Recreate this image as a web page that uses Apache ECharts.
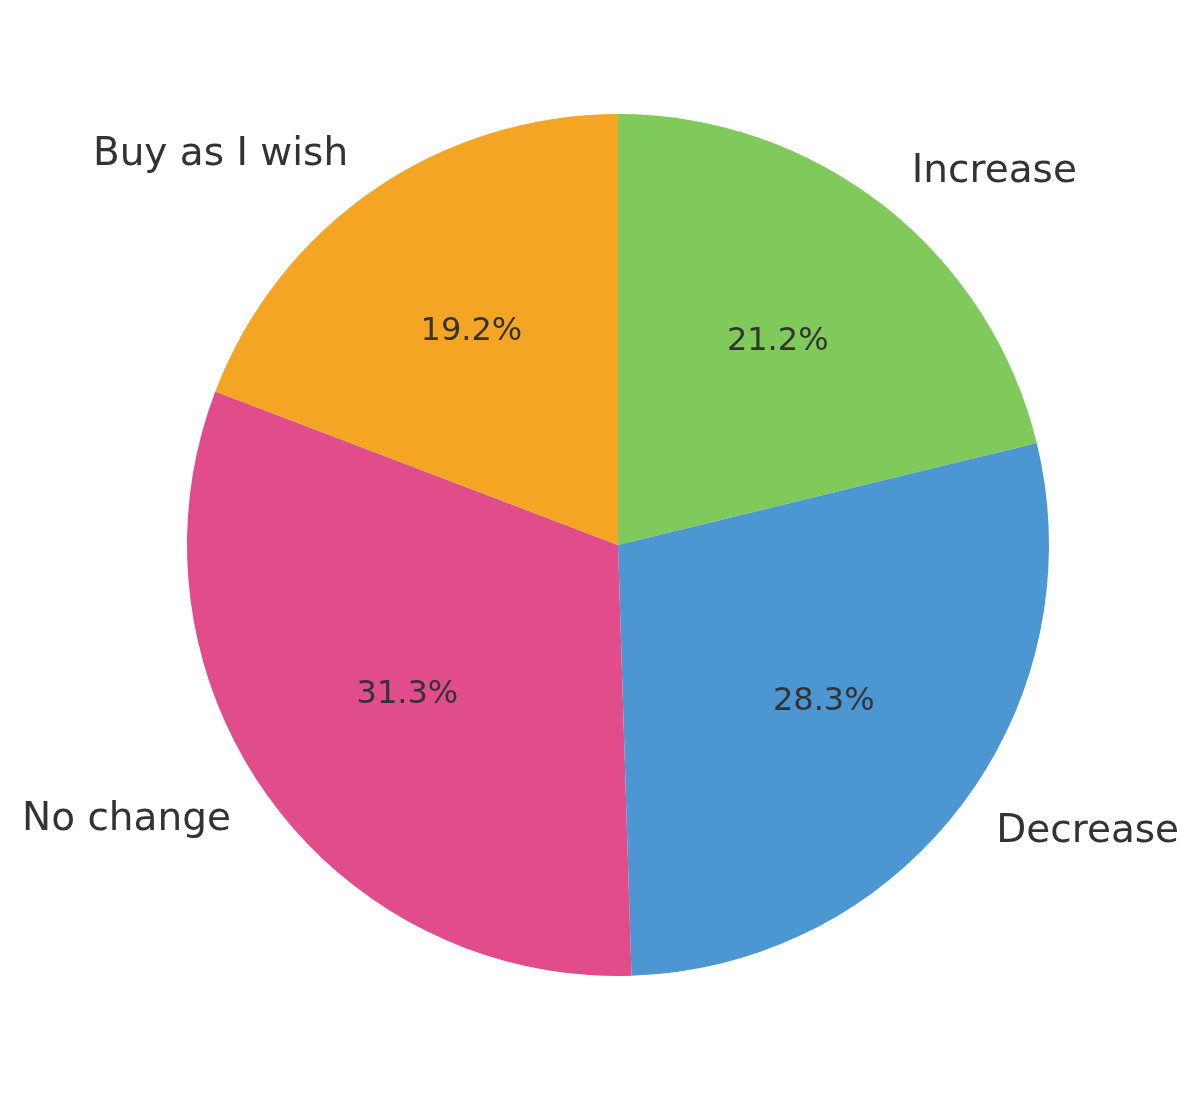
<!DOCTYPE html>
<html>
<head>
<meta charset="utf-8">
<script src="https://cdn.jsdelivr.net/npm/echarts@6/dist/echarts.min.js"></script>
<style>html,body{margin:0;padding:0;background:#fff}#c{width:1200px;height:1106px}</style>
</head>
<body>
<div id="c"></div>
<script>
const categories = ['Increase', 'Decrease', 'No change', 'Buy as I wish'];
const values = [21.2, 28.3, 31.3, 19.2];
const colors = ['#7fca5a', '#4c96d2', '#e04d8a', '#f4a523'];

const chart = echarts.init(document.getElementById('c'), null, {renderer: 'canvas'});
const cx = 618, cy = 545, R = 431;
const mainData = categories.map((n, i) => ({name: n, value: values[i], itemStyle: {color: colors[i]}}));
const pctData = categories.map((n, i) => ({name: n, value: values[i]}));
chart.setOption({
  animation: false,
  backgroundColor: '#ffffff',
  series: [
    {
      type: 'pie',
      center: [cx, cy],
      radius: [0, R],
      startAngle: 90,
      clockwise: true,
      avoidLabelOverlap: false,
      silent: true,
      data: mainData,
      itemStyle: {borderWidth: 0},
      label: {
        show: true,
        position: 'outside',
        formatter: '{b}',
        fontFamily: 'DejaVu Sans',
        fontSize: 39,
        color: '#333333',
        distanceToLabelLine: 1
      },
      labelLine: {show: false, length: 43, length2: 0},
      emphasis: {disabled: true}
    },
    {
      type: 'pie',
      center: [cx, cy],
      radius: [0, 511],
      startAngle: 90,
      clockwise: true,
      avoidLabelOverlap: false,
      silent: true,
      data: pctData,
      itemStyle: {color: 'rgba(0,0,0,0)', borderWidth: 0},
      label: {
        show: true,
        position: 'inside',
        formatter: p => p.value.toFixed(1) + '%',
        fontFamily: 'DejaVu Sans',
        fontSize: 32,
        color: '#333333'
      },
      labelLine: {show: false},
      emphasis: {disabled: true}
    }
  ]
});
</script>
</body>
</html>
